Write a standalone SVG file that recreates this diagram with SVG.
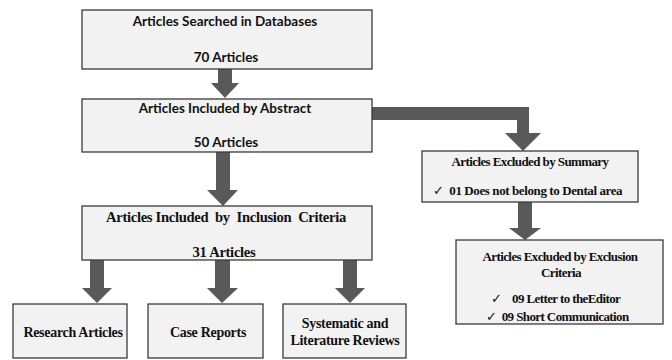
<svg xmlns="http://www.w3.org/2000/svg" width="672" height="360" viewBox="0 0 672 360">
<style>
.box{fill:#f2f2f2;stroke:#3a3a3a;stroke-width:1.3}
.arr{fill:#595959}
.c{font-family:Lato,"Liberation Sans",sans-serif;font-weight:bold;font-size:13.5px;fill:#111;text-anchor:middle}
.t{font-family:"Liberation Serif","Times New Roman",serif;font-weight:bold;font-size:14px;fill:#111;text-anchor:middle;letter-spacing:-0.3px}
.ts{font-family:"Liberation Serif","Times New Roman",serif;font-weight:bold;font-size:13px;fill:#111;letter-spacing:-0.6px}
.ck{font-weight:normal}
</style>
<rect width="672" height="360" fill="#fff"/>
<g id="connectors">
<polygon class="arr" points="218,69 232,69 232,83 239,83 225,98 211,83 218,83"/>
<polygon class="arr" points="216,152 230,152 230,190 238,190 223,206 207,190 216,190"/>
<polygon class="arr" points="372,107 529,107 529,133 541,133 523,151 505,133 517,133 517,120 372,120"/>
<polygon class="arr" points="518,202 532,202 532,228 541,228 525,240 509,228 518,228"/>
<polygon class="arr" points="90,260 104,260 104,288 112,288 97,303 82,288 90,288"/>
<polygon class="arr" points="215,260 230,260 230,288 238,288 222,303 207,288 215,288"/>
<polygon class="arr" points="343,260 357,260 357,288 365,288 350,303 335,288 343,288"/>
</g>
<g id="n1">
<rect class="box" x="82" y="10" width="290" height="59"/>
<text class="c" x="225" y="26">Articles Searched in Databases</text>
<text class="c" x="226" y="62">70 Articles</text>
</g>
<g id="n2">
<rect class="box" x="82" y="99" width="290" height="53"/>
<text class="c" x="225" y="113">Articles Included by Abstract</text>
<text class="c" x="226" y="147">50 Articles</text>
</g>
<g id="n3">
<rect class="box" x="82" y="206" width="290" height="54"/>
<text class="t" x="226" y="222" style="font-size:14.6px" xml:space="preserve">Articles Included  by  Inclusion  Criteria</text>
<text class="t" x="224" y="257" style="font-size:14.6px">31 Articles</text>
</g>
<g id="n4">
<rect class="box" x="422" y="151" width="216" height="51"/>
<text class="ts" x="530" y="166" text-anchor="middle">Articles Excluded by Summary</text>
<text class="ts" x="433" y="195" style="letter-spacing:-0.4px" xml:space="preserve"><tspan class="ck">✓</tspan>  01 Does not belong to Dental area</text>
</g>
<g id="n5">
<rect class="box" x="456" y="240" width="207" height="84"/>
<text class="ts" x="560" y="261" text-anchor="middle">Articles Excluded by Exclusion</text>
<text class="ts" x="561" y="277" text-anchor="middle">Criteria</text>
<text class="ts" x="491" y="303" xml:space="preserve"><tspan class="ck">✓</tspan>    09 Letter to theEditor</text>
<text class="ts" x="486" y="321" xml:space="preserve"><tspan class="ck">✓</tspan>  09 Short Communication</text>
</g>
<g id="n6">
<rect class="box" x="13" y="304" width="114" height="54"/>
<text class="t" x="73" y="337">Research Articles</text>
</g>
<g id="n7">
<rect class="box" x="148" y="304" width="115" height="54"/>
<text class="t" x="208" y="337">Case Reports</text>
</g>
<g id="n8">
<rect class="box" x="283" y="304" width="123" height="54"/>
<text class="t" x="345" y="328">Systematic and</text>
<text class="t" x="345" y="345">Literature Reviews</text>
</g>
</svg>
